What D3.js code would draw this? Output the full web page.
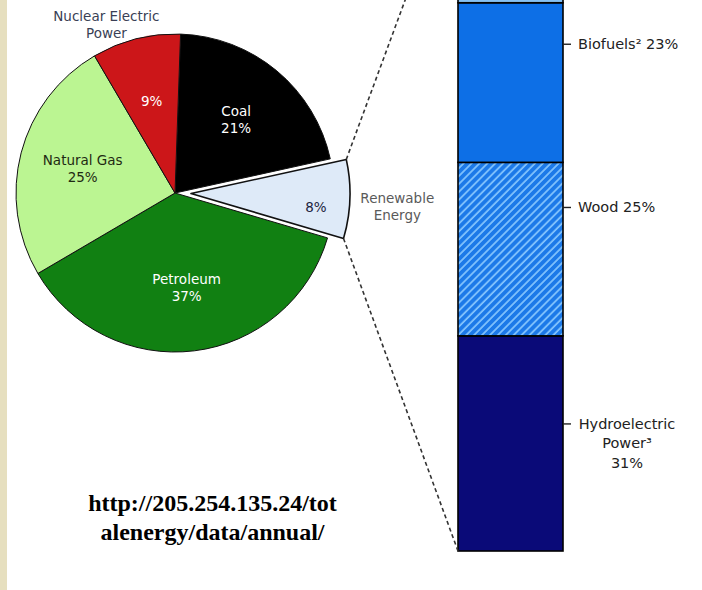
<!DOCTYPE html>
<html>
<head>
<meta charset="utf-8">
<script src="https://cdn.jsdelivr.net/npm/d3@7"></script>
<style>
  html, body { margin: 0; padding: 0; background: #fff; overflow: hidden; }
  svg { display: block; }
</style>
</head>
<body>
<svg id="chart" width="702" height="590"></svg>
<script>
// U.S. primary energy consumption by source (percent of total)
const sources = ["Coal", "Renewable Energy", "Petroleum", "Natural Gas", "Nuclear Electric Power"];
const sourceShares = [21, 8, 37, 25, 9];
const sourceColors = ["#000000", "#deeaf8", "#118012", "#bbf592", "#cc1619"];

// Renewable energy broken out by source (percent of renewables), bottom to top
const renewableSources = ["Hydroelectric Power³", "Wood", "Biofuels²", "Wind", "Waste", "Geothermal", "Solar"];
const renewableShares = [31, 25, 23, 11, 5, 3, 1];
const renewableFills = ["#0a0a78", "url(#woodHatch)", "#0d6fe6", "#86c1f2", "#4f9be8", "#9fd0f7", "#cde6fb"];

// Source note
const sourceNote = ["http://205.254.135.24/tot", "alenergy/data/annual/"];

const svg = d3.select("#chart");
const W = 702, H = 590;

svg.append("rect").attr("width", W).attr("height", H).attr("fill", "#fff");
svg.append("rect").attr("x", 0).attr("y", 0).attr("width", 7).attr("height", H).attr("fill", "#e6dfbf");

const defs = svg.append("defs");
const hatch = defs.append("pattern")
  .attr("id", "woodHatch")
  .attr("patternUnits", "userSpaceOnUse")
  .attr("width", 5.6).attr("height", 5.6)
  .attr("patternTransform", "rotate(45)");
hatch.append("rect").attr("width", 5.6).attr("height", 5.6).attr("fill", "#1c79e8");
hatch.append("line").attr("x1", 1).attr("y1", 0).attr("x2", 1).attr("y2", 5.6)
  .attr("stroke", "#8ccaff").attr("stroke-width", 1.6);

const FONT = "'DejaVu Sans', Verdana, sans-serif";

// ---------- Pie ----------
const cx = 175, cy = 193, R = 159;
const rot = 2 * Math.PI / 180;
const explode = { "Renewable Energy": 16 };

const pieData = sources.map((s, i) => ({ name: s, value: sourceShares[i], color: sourceColors[i] }));
const pie = d3.pie().sort(null).value(d => d.value).startAngle(rot).endAngle(rot + 2 * Math.PI);
const arcs = pie(pieData);
const arc = d3.arc().innerRadius(0).outerRadius(R);

const midAngle = a => (a.startAngle + a.endAngle) / 2;
const polar = (r, ang) => [r * Math.sin(ang), -r * Math.cos(ang)];
const offsetOf = a => {
  const o = explode[a.data.name] || 0;
  return polar(o, midAngle(a));
};

const pieG = svg.append("g").attr("transform", `translate(${cx},${cy})`);

pieG.selectAll("path.slice")
  .data(arcs)
  .join("path")
  .attr("class", "slice")
  .attr("transform", a => { const [dx, dy] = offsetOf(a); return `translate(${dx},${dy})`; })
  .attr("d", arc)
  .attr("fill", a => a.data.color)
  .attr("stroke", "#111")
  .attr("stroke-width", a => explode[a.data.name] ? 1.6 : 1)
  .attr("stroke-linejoin", "round");

// labels inside slices
const insideName = new Set(["Coal", "Petroleum", "Natural Gas"]);
const innerFill = { "Natural Gas": "#1f2a12", "Renewable Energy": "#1c2440" };
const innerPlace = { "Renewable Energy": { r: 0.79, turn: 4 } };
const LH = 17;

arcs.forEach(a => {
  const pl = innerPlace[a.data.name] || { r: 0.6, turn: 0 };
  const [ox, oy] = offsetOf(a);
  const [px, py] = polar(pl.r * R, midAngle(a) + pl.turn * Math.PI / 180);
  const lines = insideName.has(a.data.name) ? [a.data.name, a.data.value + "%"] : [a.data.value + "%"];
  const t = pieG.append("text")
    .attr("text-anchor", "middle")
    .attr("font-family", FONT).attr("font-size", 13.5)
    .attr("fill", innerFill[a.data.name] || "#fff");
  lines.forEach((ln, i) => {
    t.append("tspan")
      .attr("x", ox + px)
      .attr("y", oy + py + (i - (lines.length - 1) / 2) * LH)
      .attr("dominant-baseline", "central")
      .text(ln);
  });
});

// labels outside the pie
const outerPlace = {
  "Nuclear Electric Power": { r: 1.142, turn: -8, lines: ["Nuclear Electric", "Power"], fill: "#3a3f55" },
  "Renewable Energy": { r: 1.30, turn: 1.5, lines: ["Renewable", "Energy"], fill: "#5a5a5a" }
};
arcs.forEach(a => {
  const pl = outerPlace[a.data.name];
  if (!pl) return;
  const [ox, oy] = offsetOf(a);
  const [px, py] = polar(pl.r * R, midAngle(a) + pl.turn * Math.PI / 180);
  const t = pieG.append("text")
    .attr("text-anchor", "middle")
    .attr("font-family", FONT).attr("font-size", 13.5)
    .attr("fill", pl.fill);
  pl.lines.forEach((ln, i) => {
    t.append("tspan")
      .attr("x", ox + px)
      .attr("y", oy + py + (i - (pl.lines.length - 1) / 2) * LH)
      .attr("dominant-baseline", "central")
      .text(ln);
  });
});

// ---------- Renewable breakdown bar ----------
const barX0 = 458, barX1 = 563;
const y = d3.scaleLinear().domain([0, 100]).range([551, -143]);

const ends = d3.cumsum(renewableShares);
const segs = renewableSources.map((s, i) => ({
  name: s, value: renewableShares[i], fill: renewableFills[i],
  lo: ends[i] - renewableShares[i], hi: ends[i]
}));

const barG = svg.append("g");
barG.selectAll("rect.seg")
  .data(segs)
  .join("rect")
  .attr("class", "seg")
  .attr("x", barX0)
  .attr("width", barX1 - barX0)
  .attr("y", d => y(d.hi))
  .attr("height", d => y(d.lo) - y(d.hi))
  .attr("fill", d => d.fill)
  .attr("stroke", "#000")
  .attr("stroke-width", 1.6);

// connector lines from the exploded slice to the bar
const ren = arcs.find(a => explode[a.data.name]);
const [rx, ry] = offsetOf(ren);
const cTop = polar(R, ren.startAngle), cBot = polar(R, ren.endAngle);
const connectors = [
  [[cx + rx + cTop[0], cy + ry + cTop[1]], [barX0, y(100)]],
  [[cx + rx + cBot[0], cy + ry + cBot[1]], [barX0, y(0)]]
];
svg.selectAll("line.conn")
  .data(connectors)
  .join("line")
  .attr("class", "conn")
  .attr("x1", d => d[0][0]).attr("y1", d => d[0][1])
  .attr("x2", d => d[1][0]).attr("y2", d => d[1][1])
  .attr("stroke", "#333")
  .attr("stroke-width", 1.6)
  .attr("stroke-dasharray", "4,3");

// segment labels (only those that fall inside the drawing area)
const labG = svg.append("g")
  .attr("font-family", FONT).attr("font-size", 14.5).attr("fill", "#222");
segs.forEach(d => {
  const top = y(d.hi), h = y(d.lo) - y(d.hi);
  const words = d.name.split(" ");
  let lines, ty;
  if (words.length > 1) {
    lines = [...words, d.value + "%"];
    ty = top + h / 2 - (lines.length - 1) / 2 * 19.5;
  } else {
    lines = [d.name + " " + d.value + "%"];
    ty = top + h * 0.26;
  }
  if (ty < 10 || ty + (lines.length - 1) * 19.5 > H - 10) return;
  labG.append("line")
    .attr("x1", barX1).attr("x2", barX1 + 8)
    .attr("y1", ty).attr("y2", ty)
    .attr("stroke", "#222").attr("stroke-width", 1.4);
  const multi = lines.length > 1;
  const t = labG.append("text").attr("text-anchor", multi ? "middle" : "start");
  lines.forEach((ln, i) => {
    t.append("tspan")
      .attr("x", multi ? 627 : 578)
      .attr("y", ty + i * 19.5)
      .attr("dominant-baseline", "central")
      .text(ln);
  });
});

// ---------- Source note ----------
const note = svg.append("text")
  .attr("text-anchor", "middle")
  .attr("font-family", "'Liberation Serif', 'Times New Roman', serif")
  .attr("font-weight", "bold")
  .attr("font-size", 24)
  .attr("fill", "#000");
sourceNote.forEach((ln, i) => {
  note.append("tspan").attr("x", 212.5).attr("y", 511 + i * 29).text(ln);
});
</script>
</body>
</html>
